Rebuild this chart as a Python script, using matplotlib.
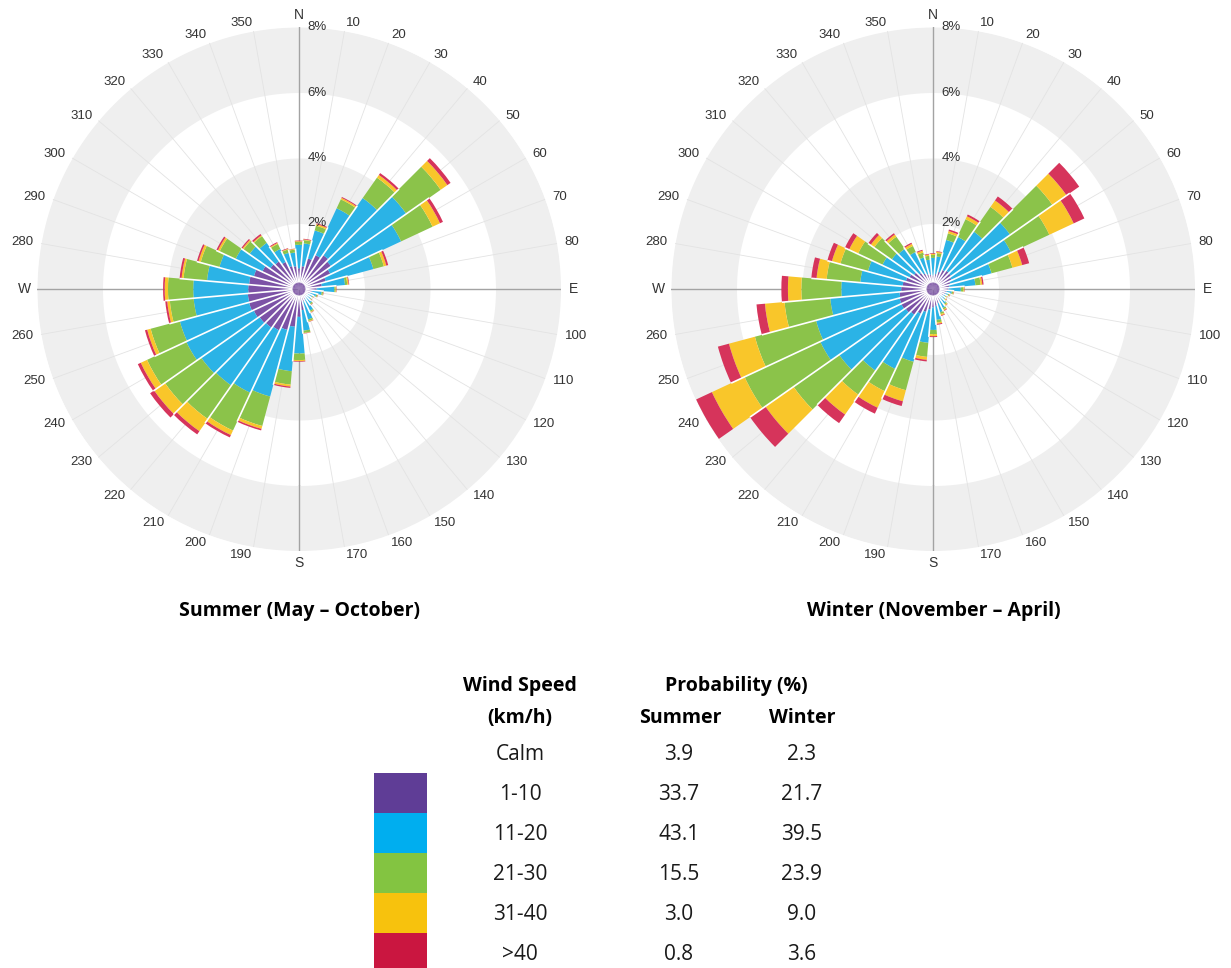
import numpy as np
import matplotlib
matplotlib.use('Agg')
from matplotlib import pyplot as plt
from matplotlib.patches import Rectangle

# wind directions (deg, clockwise from north), one bar per 10 degrees
directions = list(range(10, 370, 10))

# summer, % of time per direction and speed bin
summer_1_10 = [.70, .97, 1.15, 1.27, 1.20, 1.06, .85, .70, .54,
               .40, .35, .30, .30, .30, .35, .40, .65, .85,
               1.16, 1.30, 1.40, 1.45, 1.48, 1.53, 1.58, 1.57, 1.55,
               1.53, 1.43, 1.24, 1.08, 1.04, .92, .73, .70, .63]
summer_11_20 = [.70, .88, 1.57, 2.12, 2.80, 2.38, 1.50, .71, .54,
                .30, .20, .16, .16, .25, .39, .57, .63, 1.12,
                1.36, 2.10, 2.10, 2.15, 2.17, 2.27, 2.19, 1.66, 1.68,
                1.29, 1.09, .90, .77, .68, .43, .42, .42, .72]
summer_21_30 = [.10, .15, .30, .76, 1.28, 1.06, .33, .07, .04,
                .04, .04, .03, .03, .04, .04, .05, .07, .20,
                .41, .93, 1.27, 1.25, 1.35, 1.32, .92, .73, .77,
                .72, .59, .54, .23, .25, .17, .10, .09, .09]
summer_31_40 = [.02, .05, .05, .10, .25, .25, .08, .04, .02,
                .01, .01, .01, .01, .01, .02, .02, .01, .03,
                .06, .09, .15, .45, .40, .21, .11, .08, .10,
                .06, .07, .06, .04, .03, .03, .02, .02, .02]
summer_40 = [.02, .03, .03, .07, .12, .10, .06, .02, .01,
             .01, .01, .01, .01, .01, .01, .01, .01, .02,
             .04, .05, .08, .12, .15, .10, .07, .06, .05,
             .06, .05, .05, .04, .05, .03, .02, .01, .02]

# winter
winter_1_10 = [.46, .55, .65, .69, .68, .63, .55, .50, .47,
               .42, .40, .35, .30, .30, .40, .45, .52, .56,
               .63, .73, .84, .97, 1.03, 1.07, 1.06, 1.03, .97,
               .93, .86, .80, .72, .61, .53, .47, .44, .41]
winter_11_20 = [.54, 1.00, 1.11, 1.46, 2.20, 2.00, 1.30, .80, .38,
                .16, .08, .08, .16, .26, .25, .29, .43, .69,
                1.02, 1.57, 1.86, 2.08, 2.47, 2.73, 2.64, 2.12, 1.83,
                1.30, 1.20, .91, .83, .89, .72, .53, .46, .54]
winter_21_30 = [.10, .21, .59, .91, 1.58, 1.29, .66, .16, .08,
                .04, .04, .04, .04, .04, .05, .06, .08, .13,
                .43, .90, .75, .90, 1.70, 2.55, 1.93, 1.40, 1.22,
                1.03, .87, .82, .65, .45, .20, .15, .12, .09]
winter_31_40 = [.04, .07, .10, .24, .52, .82, .31, .05, .03,
                .02, .02, .02, .02, .03, .03, .04, .04, .06,
                .09, .35, .55, .73, 1.05, 1.10, .82, .60, .41,
                .31, .27, .30, .13, .08, .07, .06, .04, .04]
winter_40 = [.02, .05, .06, .15, .47, .36, .22, .04, .01,
             .01, .01, .01, .01, .01, .02, .02, .03, .03,
             .05, .15, .20, .32, .57, .53, .35, .26, .20,
             .16, .14, .14, .09, .05, .04, .03, .02, .02]

# legend table
speed_bins = ['Calm', '1-10', '11-20', '21-30', '31-40', '>40']
summer_prob = ['3.9', '33.7', '43.1', '15.5', '3.0', '0.8']
winter_prob = ['2.3', '21.7', '39.5', '23.9', '9.0', '3.6']

bar_colors = ['#7c52a6', '#2bb3e6', '#8bc34a', '#f9c62a', '#d6345b']
key_colors = ['#5f3d96', '#00aeef', '#83c441', '#f7c20d', '#ca1640']

W, H = 1231, 968
R = 262  # px radius of the 8 % ring
CY = 289

fig = plt.figure(figsize=(W / 100, H / 100), dpi=100)

label_font = ['Liberation Sans', 'DejaVu Sans']
body_font = ['Open Sans', 'DejaVu Sans']


def draw_rose(cx, series):
    ax = fig.add_axes([(cx - R) / W, 1 - (CY + R) / H, 2 * R / W, 2 * R / H],
                      projection='polar')
    ax.set_theta_zero_location('N')
    ax.set_theta_direction(-1)
    ax.set_ylim(0, 8)
    ax.set_xticks([])
    ax.set_yticks([])
    ax.grid(False)
    ax.spines['polar'].set_visible(False)

    full = np.linspace(0, 2 * np.pi, 400)
    for lo in (2, 6):
        ax.fill_between(full, lo, lo + 2, color='#efefef', lw=0, zorder=0)

    for d in range(0, 360, 10):
        th = np.deg2rad(d)
        if d % 90 == 0:
            ax.plot([th, th], [0, 8], color='#a3a3a3', lw=1.0, zorder=1)
        else:
            ax.plot([th, th], [0, 8], color='#e3e3e3', lw=0.6, zorder=1)

    theta = np.deg2rad(directions)
    width = np.deg2rad(10)
    bottom = np.zeros(len(directions))
    for vals, col in zip(series, bar_colors):
        vals = np.array(vals)
        ax.bar(theta, vals, width=width, bottom=bottom, color=col,
               edgecolor='none', linewidth=0, zorder=3)
        bottom = bottom + vals

    # thin white gaps between neighbouring bars
    for i in range(len(directions)):
        j = (i + 1) % len(directions)
        th = np.deg2rad(directions[i] + 5)
        top = min(bottom[i], bottom[j])
        ax.plot([th, th], [0.2, top], color='white', lw=1.2, zorder=4,
                solid_capstyle='butt')

    for ring in (2, 4, 6, 8):
        ax.annotate(f'{ring}%', xy=(0, ring), xytext=(6, 0),
                    textcoords='offset points', ha='left', va='center',
                    fontsize=9.5, color='#333333', family=label_font,
                    annotation_clip=False, zorder=6)

    for d in range(10, 360, 10):
        if d % 90 == 0:
            continue
        ha = 'left' if d < 180 else 'right'
        ax.text(np.deg2rad(d), 8.24, str(d), ha=ha, va='center',
                fontsize=9.5, color='#333333', family=label_font)
    for d, s in zip((0, 90, 180, 270), ('N', 'E', 'S', 'W')):
        ax.text(np.deg2rad(d), 8.38, s, ha='center', va='center',
                fontsize=10, color='#333333', family=label_font)
    return ax


draw_rose(299, [summer_1_10, summer_11_20, summer_21_30, summer_31_40, summer_40])
draw_rose(933, [winter_1_10, winter_11_20, winter_21_30, winter_31_40, winter_40])


def put(x, y, s, **kw):
    fig.text(x / W, 1 - y / H, s, ha='center', va='center', family=body_font, **kw)


bold = dict(fontsize=14, fontweight='bold', color='black')
put(299.5, 611, 'Summer (May \u2013 October)', **bold)
put(934, 611, 'Winter (November \u2013 April)', **bold)

put(520, 686, 'Wind Speed', **bold)
put(520, 718, '(km/h)', **bold)
put(736, 686, 'Probability (%)', **bold)
put(680, 718, 'Summer', **bold)
put(802, 718, 'Winter', **bold)

row_y = [754, 794, 834, 874, 914, 954]
for i, y in enumerate(row_y):
    put(520, y, speed_bins[i], fontsize=15, color='#1a1a1a')
    put(679, y, summer_prob[i], fontsize=15, color='#1a1a1a')
    put(802, y, winter_prob[i], fontsize=15, color='#1a1a1a')

for k, col in enumerate(key_colors):
    top = 773 + 40 * k
    fig.patches.append(Rectangle((374 / W, 1 - (top + 40) / H), 53 / W, 40 / H,
                                 transform=fig.transFigure, color=col, lw=0))

fig.savefig('out.png', dpi=100)
